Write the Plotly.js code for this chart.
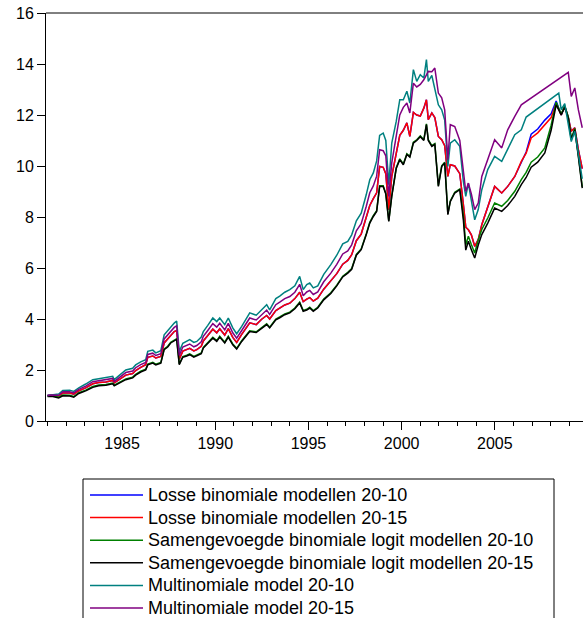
<!DOCTYPE html>
<html><head><meta charset="utf-8">
<script src="https://cdn.plot.ly/plotly-3.0.1.min.js"></script>
<style>html,body{margin:0;padding:0;background:#fff;overflow:hidden}#chart{width:583px;height:618px}</style>
</head><body><div id="chart"></div>
<script>
// Time axis (decimal years)
const jaar = [
 1981.00,1981.23,1981.60,1981.82,1982.19,1982.41,1982.68,1983.05,1983.43,1983.75,
 1984.13,1984.50,1984.58,1984.88,1985.20,1985.57,1985.73,1986.00,1986.27,1986.38,
 1986.65,1986.81,1987.08,1987.26,1987.45,1987.61,1987.80,1987.93,1988.07,1988.26,
 1988.47,1988.63,1988.85,1989.01,1989.25,1989.36,1989.60,1989.87,1990.08,1990.24,
 1990.51,1990.70,1990.94,1991.15,1991.42,1991.64,1991.85,1992.20,1992.49,1992.76,
 1992.92,1993.25,1993.46,1993.73,1994.00,1994.27,1994.53,1994.72,1994.91,1995.07,
 1995.26,1995.50,1995.82,1996.20,1996.52,1996.84,1997.11,1997.32,1997.57,1997.83,
 1998.10,1998.29,1998.48,1998.66,1998.82,1999.01,1999.15,1999.31,1999.47,1999.71,
 1999.90,2000.09,2000.28,2000.44,2000.63,2000.81,2001.00,2001.19,2001.33,2001.43,
 2001.62,2001.78,2001.97,2002.15,2002.31,2002.48,2002.61,2002.85,2003.12,2003.31,
 2003.44,2003.58,2003.74,2003.92,2004.11,2004.30,2004.62,2004.99,2005.37,2005.69,
 2006.07,2006.42,2006.68,2006.95,2007.30,2007.68,2008.02,2008.29,2008.43,2008.56,
 2008.75,2008.94,2009.10,2009.29,2009.48,2009.69];

// Losse binomiale modellen 20-10
const losse2010 = [
 1.00,1.01,0.97,1.10,1.10,1.05,1.18,1.30,1.46,1.51,
 1.53,1.59,1.49,1.63,1.80,1.86,1.98,2.10,2.21,2.50,
 2.55,2.47,2.53,3.06,3.22,3.38,3.51,3.55,2.42,2.74,
 2.80,2.85,2.75,2.80,2.93,3.14,3.35,3.60,3.46,3.62,
 3.37,3.62,3.28,3.08,3.40,3.62,3.85,3.78,3.99,4.14,
 4.00,4.33,4.42,4.55,4.62,4.80,5.05,4.68,4.78,4.84,
 4.70,4.82,5.17,5.48,5.78,6.15,6.30,6.52,7.07,7.33,
 7.96,8.45,8.72,8.95,9.98,9.95,9.70,8.29,9.59,10.45,
 11.20,11.40,11.69,11.16,12.10,12.00,11.96,12.27,12.60,11.82,
 12.08,11.90,11.16,11.03,10.80,9.59,10.05,10.00,9.70,8.50,
 7.60,7.50,7.30,6.85,7.11,7.70,8.42,9.20,8.94,9.20,
 9.59,10.18,10.55,11.25,11.45,11.80,12.05,12.55,12.30,12.00,
 12.35,11.90,11.36,11.50,10.64,9.90];

// Losse binomiale modellen 20-15
const losse2015 = [
 1.00,1.01,0.97,1.10,1.10,1.05,1.18,1.30,1.46,1.51,
 1.53,1.59,1.49,1.63,1.80,1.86,1.98,2.10,2.21,2.50,
 2.55,2.47,2.53,3.06,3.22,3.38,3.51,3.55,2.42,2.74,
 2.80,2.85,2.75,2.80,2.93,3.14,3.35,3.60,3.46,3.62,
 3.37,3.62,3.28,3.08,3.40,3.62,3.85,3.78,3.99,4.14,
 4.00,4.33,4.42,4.55,4.62,4.80,5.05,4.68,4.78,4.84,
 4.70,4.82,5.17,5.48,5.78,6.15,6.30,6.52,7.07,7.33,
 7.96,8.45,8.72,8.95,9.98,9.95,9.70,8.29,9.59,10.45,
 11.20,11.40,11.69,11.16,12.10,12.00,11.96,12.27,12.60,11.82,
 12.08,11.90,11.16,11.03,10.80,9.59,10.05,10.00,9.70,8.50,
 7.60,7.50,7.30,6.85,7.11,7.70,8.42,9.20,8.94,9.20,
 9.59,10.18,10.50,11.10,11.30,11.62,11.90,12.45,12.20,12.00,
 12.35,11.90,11.36,11.50,10.64,9.90];

// Samengevoegde binomiale logit modellen 20-10
const samen2010 = [
 0.99,1.00,0.93,1.02,1.01,0.96,1.11,1.21,1.35,1.41,
 1.43,1.49,1.41,1.53,1.65,1.72,1.83,1.95,2.03,2.23,
 2.30,2.23,2.30,2.83,2.93,3.09,3.19,3.23,2.24,2.53,
 2.58,2.63,2.53,2.58,2.67,2.89,3.08,3.28,3.15,3.32,
 3.09,3.32,3.02,2.85,3.15,3.33,3.54,3.50,3.68,3.81,
 3.68,4.00,4.08,4.20,4.27,4.43,4.66,4.33,4.38,4.46,
 4.33,4.46,4.78,5.03,5.33,5.68,5.83,5.98,6.53,6.75,
 7.33,7.79,8.05,8.25,9.23,9.23,8.93,7.86,8.84,9.93,
 10.28,10.08,10.48,10.38,10.93,11.03,11.18,11.03,11.65,11.03,
 10.80,10.88,9.23,10.01,10.15,8.12,8.63,8.97,9.10,8.09,
 6.90,7.25,6.92,6.59,7.10,7.51,7.96,8.55,8.42,8.65,
 9.01,9.47,9.75,10.15,10.35,10.71,11.60,12.50,12.25,12.05,
 12.35,11.93,11.08,11.47,10.43,9.18];

// Samengevoegde binomiale logit modellen 20-15
const samen2015 = [
 0.96,0.97,0.90,0.99,0.98,0.93,1.08,1.18,1.32,1.38,
 1.40,1.46,1.38,1.50,1.62,1.69,1.80,1.92,2.00,2.20,
 2.27,2.20,2.27,2.80,2.90,3.06,3.16,3.20,2.21,2.50,
 2.55,2.60,2.50,2.55,2.64,2.86,3.05,3.25,3.12,3.29,
 3.06,3.29,2.99,2.82,3.12,3.30,3.51,3.47,3.65,3.78,
 3.65,3.97,4.05,4.17,4.24,4.40,4.63,4.30,4.35,4.43,
 4.30,4.43,4.75,5.00,5.30,5.65,5.80,5.95,6.50,6.72,
 7.30,7.76,8.02,8.22,9.20,9.20,8.90,7.83,8.81,9.90,
 10.25,10.05,10.45,10.35,10.90,11.00,11.15,11.00,11.62,11.00,
 10.77,10.85,9.20,9.98,10.12,8.09,8.60,8.94,9.07,7.89,
 6.70,7.05,6.72,6.39,6.90,7.31,7.76,8.35,8.22,8.45,
 8.81,9.27,9.55,9.95,10.15,10.51,11.40,12.40,12.20,12.00,
 12.30,11.88,11.03,11.42,10.38,9.13];

// Multinomiale model 20-10 (null = no observation)
const multi2010 = [
 1.00,1.03,1.06,1.20,1.21,1.16,1.30,1.45,1.62,1.66,
 1.70,1.75,1.62,1.80,2.00,2.07,2.20,2.32,2.40,2.73,
 2.78,2.67,2.76,3.38,3.55,3.70,3.84,3.92,2.72,3.05,
 3.12,3.19,3.08,3.12,3.29,3.51,3.75,4.04,3.90,4.04,
 3.78,4.04,3.65,3.42,3.71,4.00,4.24,4.15,4.36,4.56,
 4.36,4.80,4.90,5.05,5.15,5.30,5.67,5.15,5.35,5.41,
 5.22,5.30,5.75,6.13,6.50,6.95,7.04,7.30,7.85,8.15,
 8.87,9.46,9.73,10.20,11.20,11.29,11.00,9.27,10.90,11.75,
 12.60,12.60,12.93,12.47,13.78,13.32,13.58,13.45,14.17,13.32,
 13.55,12.99,12.40,12.20,11.80,9.98,10.90,11.03,10.77,9.40,
 8.81,9.33,8.60,7.89,8.29,9.07,9.86,10.38,10.18,10.64,
 11.23,11.42,11.92,null,null,null,null,null,12.86,12.21,
 12.45,11.70,10.96,11.36,10.38,9.50];

// Multinomiale model 20-15 (null = no observation)
const multi2015 = [
 1.00,1.02,1.01,1.15,1.15,1.10,1.24,1.37,1.54,1.58,
 1.61,1.67,1.55,1.71,1.90,1.96,2.09,2.21,2.30,2.61,
 2.66,2.57,2.64,3.22,3.38,3.54,3.67,3.73,2.57,2.90,
 2.96,3.02,2.91,2.96,3.11,3.32,3.55,3.82,3.68,3.83,
 3.57,3.83,3.46,3.25,3.55,3.81,4.04,3.96,4.17,4.35,
 4.18,4.56,4.66,4.80,4.88,5.05,5.36,4.91,5.06,5.12,
 4.96,5.06,5.46,5.80,6.14,6.55,6.67,6.91,7.46,7.74,
 8.41,8.95,9.22,9.60,10.64,10.60,10.40,8.81,10.12,11.10,
 12.00,12.30,12.47,12.08,13.25,13.10,13.20,13.38,13.55,13.71,
 13.70,13.84,12.86,12.67,12.20,10.25,11.62,11.55,11.00,9.80,
 9.00,9.33,8.90,8.29,8.55,9.59,10.25,11.03,10.71,11.42,
 11.95,12.40,null,null,null,null,null,null,null,null,
 null,13.67,12.73,13.06,12.21,11.50];

const reeksNamen = [
 'Losse binomiale modellen 20-10',
 'Losse binomiale modellen 20-15',
 'Samengevoegde binomiale logit modellen 20-10',
 'Samengevoegde binomiale logit modellen 20-15',
 'Multinomiale model 20-10',
 'Multinomiale model 20-15'];

const xTickYears = [1985, 1990, 1995, 2000, 2005];
const yTicks = [0, 2, 4, 6, 8, 10, 12, 14, 16];

// ---- styling / layout (not data) ----
const kleuren = ['#0000ff', '#ff0000', '#008000', '#000000', '#008080', '#800080'];
const reeksen = [losse2010, losse2015, samen2010, samen2015, multi2010, multi2015];
const FONT = 'Liberation Sans, Arial, Helvetica, sans-serif';
const W = 583, H = 618, PL = 46, PR = 583, PT = 13, PB = 421;
const px2x = p => (p - PL) / (PR - PL);
const px2y = p => (PB - p) / (PB - PT);

const traces = reeksen.map((ys, i) => ({
  type: 'scatter', mode: 'lines', x: jaar, y: ys, name: reeksNamen[i],
  connectgaps: true, line: {color: kleuren[i], width: 1.5}, hoverinfo: 'skip', showlegend: false
}));

const shapes = [
  {type: 'line', xref: 'paper', yref: 'paper', x0: 0, x1: 1, y0: 1, y1: 1, line: {color: '#000', width: 1}},
  {type: 'rect', xref: 'paper', yref: 'paper', x0: px2x(83), x1: px2x(554), y0: px2y(479), y1: px2y(700),
   line: {color: '#000', width: 1}, fillcolor: 'rgba(0,0,0,0)'}
];
const annotations = [];
const rowTop = 495, rowStep = 22.6;
reeksNamen.forEach((nm, i) => {
  const yy = rowTop + i * rowStep;
  shapes.push({type: 'line', xref: 'paper', yref: 'paper', x0: px2x(90), x1: px2x(143), y0: px2y(yy), y1: px2y(yy),
    line: {color: kleuren[i], width: 1.5}});
  annotations.push({xref: 'paper', yref: 'paper', x: px2x(146), y: px2y(yy), xanchor: 'left', yanchor: 'middle',
    text: nm, showarrow: false, font: {family: FONT, size: 18, color: '#000'}});
});

const layout = {
  width: W, height: H,
  margin: {l: PL, r: W - PR, t: PT, b: H - PB, pad: 0},
  paper_bgcolor: '#fff', plot_bgcolor: '#fff',
  showlegend: false,
  font: {family: FONT, size: 16, color: '#000'},
  xaxis: {
    range: [1980.92, 2009.73], tickmode: 'array', tickvals: xTickYears, ticktext: xTickYears.map(String),
    ticks: 'outside', ticklen: 8, tickwidth: 1, tickcolor: '#000',
    minor: {tick0: 1981, dtick: 1, ticks: 'outside', ticklen: 4, tickwidth: 1, tickcolor: '#000', showgrid: false},
    showline: true, linecolor: '#000', linewidth: 1, showgrid: false, zeroline: false,
    tickfont: {family: FONT, size: 16, color: '#000'}
  },
  yaxis: {
    range: [0, 16], tickmode: 'array', tickvals: yTicks, ticktext: yTicks.map(String),
    ticks: 'outside', ticklen: 8, tickwidth: 1, tickcolor: '#000',
    showline: true, linecolor: '#000', linewidth: 1, showgrid: false, zeroline: false,
    tickfont: {family: FONT, size: 16, color: '#000'}
  },
  shapes: shapes,
  annotations: annotations
};

Plotly.newPlot('chart', traces, layout, {displayModeBar: false, staticPlot: true});
</script>
</body></html>
